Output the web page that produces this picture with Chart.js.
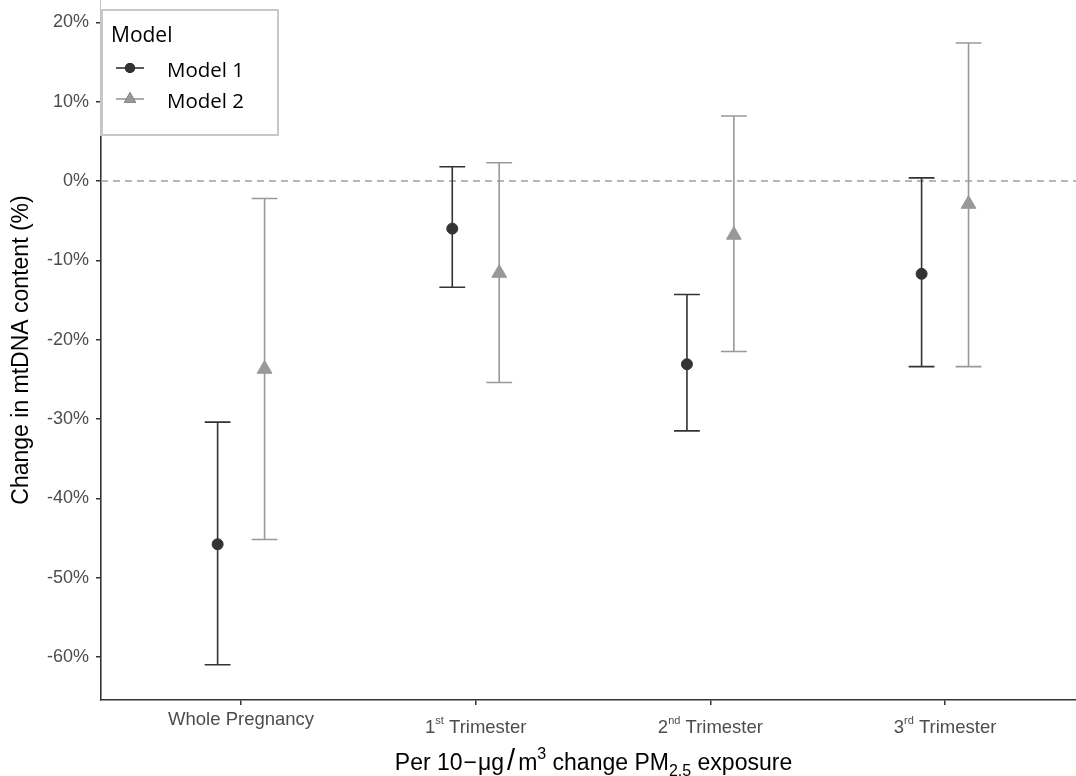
<!DOCTYPE html>
<html>
<head>
<meta charset="utf-8">
<title>mtDNA content vs PM2.5</title>
<script src="https://cdn.jsdelivr.net/npm/chart.js@4.4.1/dist/chart.umd.min.js"></script>
<style>
  html, body { margin: 0; padding: 0; background: #fff; }
  #wrap { width: 1076px; height: 776px; }
  canvas { display: block; }
</style>
</head>
<body>
<div id="wrap"><canvas id="grafico" width="1076" height="776"></canvas></div>
<script>
// ===== Dados: estimativa e IC 95% (% de mudança no mtDNA) =====
const PERIODOS = ['Whole Pregnancy', '1st Trimester', '2nd Trimester', '3rd Trimester'];
// rótulo do eixo x em partes: texto, sufixo sobrescrito, resto
const ROTULO_BASE = ['Whole Pregnancy', '1', '2', '3'];
const ROTULO_SUP = ['', 'st', 'nd', 'rd'];
const ROTULO_RESTO = ['', ' Trimester', ' Trimester', ' Trimester'];

const MODELO1_EST = [-45.8, -6.0, -23.1, -11.7];
const MODELO1_INF = [-61.0, -13.4, -31.5, -23.4];
const MODELO1_SUP = [-30.4, 1.8, -14.3, 0.4];

const MODELO2_EST = [-23.7, -11.6, -6.8, -2.9];
const MODELO2_INF = [-45.2, -25.4, -21.5, -23.4];
const MODELO2_SUP = [-2.2, 2.3, 8.2, 17.4];

const Y_TICKS = [-60, -50, -40, -30, -20, -10, 0, 10, 20];

// ===== Aparência =====
const FONTE = "'Liberation Sans', Arial, sans-serif";
const FONTE_LEGENDA = "'Open Sans', 'Liberation Sans', sans-serif";
const COR_TICK = '#4d4d4d';
const COR_EIXO = '#333333';
const DODGE = 0.1;   // afastamento dos dois modelos dentro do período
const CAPA = 0.055;  // meia largura da barra de erro (unidades do eixo x)

const MODELOS = [
  { label: 'Model 1', est: MODELO1_EST, inf: MODELO1_INF, sup: MODELO1_SUP,
    cor: '#333333', forma: 'circle', raio: 5.5, desloc: -DODGE },
  { label: 'Model 2', est: MODELO2_EST, inf: MODELO2_INF, sup: MODELO2_SUP,
    cor: '#999999', forma: 'triangle', raio: 8.5, desloc: DODGE },
];

// ===== Plugin: linha tracejada no zero =====
const linhaZero = {
  id: 'linhaZero',
  beforeDatasetsDraw(chart) {
    const { ctx, chartArea: { left, right }, scales: { y } } = chart;
    const py = y.getPixelForValue(0);
    ctx.save();
    ctx.strokeStyle = '#a0a0a0';
    ctx.lineWidth = 1.5;
    ctx.setLineDash([7, 5]);
    ctx.beginPath();
    ctx.moveTo(left, py);
    ctx.lineTo(right, py);
    ctx.stroke();
    ctx.restore();
  },
};

// ===== Plugin: barras de erro (IC) =====
const barrasErro = {
  id: 'barrasErro',
  beforeDatasetsDraw(chart) {
    const { ctx, scales: { x, y } } = chart;
    ctx.save();
    ctx.lineWidth = 1.6;
    MODELOS.forEach((m) => {
      ctx.strokeStyle = m.cor;
      m.est.forEach((_, i) => {
        const px = x.getPixelForValue(i + m.desloc);
        const x0 = x.getPixelForValue(i + m.desloc - CAPA);
        const x1 = x.getPixelForValue(i + m.desloc + CAPA);
        const yLo = y.getPixelForValue(m.inf[i]);
        const yHi = y.getPixelForValue(m.sup[i]);
        ctx.beginPath();
        ctx.moveTo(px, yLo);
        ctx.lineTo(px, yHi);
        ctx.moveTo(x0, yLo);
        ctx.lineTo(x1, yLo);
        ctx.moveTo(x0, yHi);
        ctx.lineTo(x1, yHi);
        ctx.stroke();
      });
    });
    ctx.restore();
  },
};

// ===== Plugin: rótulos do eixo x (com sobrescrito) e título do eixo x =====
function desenharPartes(ctx, partes, cx, baseY) {
  let total = 0;
  partes.forEach((p) => {
    ctx.font = `${p.tam}px ${FONTE}`;
    p.w = ctx.measureText(p.t).width;
    total += p.w + (p.gap || 0) * 2;
  });
  let px = cx - total / 2;
  partes.forEach((p) => {
    ctx.font = `${p.tam}px ${FONTE}`;
    px += p.gap || 0;
    ctx.fillText(p.t, px, baseY + (p.dy || 0));
    px += p.w + (p.gap || 0);
  });
}

const rotulosX = {
  id: 'rotulosX',
  afterDraw(chart) {
    const { ctx, chartArea: { left, right, bottom }, scales: { x } } = chart;
    ctx.save();
    ctx.textAlign = 'left';
    ctx.textBaseline = 'alphabetic';
    ctx.fillStyle = COR_TICK;

    PERIODOS.forEach((_, i) => {
      const cx = x.getPixelForValue(i);
      const partes = [{ t: ROTULO_BASE[i], tam: 18.5 }];
      if (ROTULO_SUP[i]) {
        partes.push({ t: ROTULO_SUP[i], tam: 11, dy: -9 });
        partes.push({ t: ROTULO_RESTO[i], tam: 18.5 });
      }
      desenharPartes(ctx, partes, cx, bottom + (ROTULO_SUP[i] ? 33 : 25));
    });

    // título: Per 10 − μg / m³ change PM2.5 exposure
    ctx.fillStyle = '#000';
    desenharPartes(ctx, [
      { t: 'Per 10', tam: 23 },
      { t: '\u2212', tam: 23, gap: 1 },
      { t: '\u03bcg', tam: 23 },
      { t: '/', tam: 29, gap: 3 },
      { t: 'm', tam: 23 },
      { t: '3', tam: 16, dy: -11 },
      { t: ' change PM', tam: 23 },
      { t: '2.5', tam: 16, dy: 6 },
      { t: ' exposure', tam: 23 },
    ], (left + right) / 2 + 5, bottom + 70);
    ctx.restore();
  },
};

// ===== Plugin: legenda dentro do gráfico (cobre o topo do eixo y) =====
const legendaModelo = {
  id: 'legendaModelo',
  afterDraw(chart) {
    const { ctx } = chart;
    ctx.save();
    ctx.fillStyle = '#fff';
    ctx.fillRect(100.3, 0, 179, 136);
    ctx.strokeStyle = '#c8c8c8';
    ctx.lineWidth = 2;
    ctx.strokeRect(102, 10, 176, 125);

    ctx.fillStyle = '#000';
    ctx.textBaseline = 'alphabetic';
    ctx.font = `21px ${FONTE_LEGENDA}`;
    ctx.fillText('Model', 111, 42);

    MODELOS.forEach((m, i) => {
      const cy = 68 + i * 31;
      ctx.strokeStyle = m.cor;
      ctx.lineWidth = 1.6;
      ctx.beginPath();
      ctx.moveTo(116, cy);
      ctx.lineTo(144, cy);
      ctx.stroke();
      Chart.helpers.drawPoint(ctx, {
        pointStyle: m.forma, radius: m.forma === 'circle' ? 5 : 7, rotation: 0, borderWidth: 0,
      }, 130, cy);
      ctx.fillStyle = m.cor;
      ctx.fill();
      ctx.fillStyle = '#000';
      ctx.font = `20.5px ${FONTE_LEGENDA}`;
      ctx.fillText(m.label, 167, cy + 9);
    });
    ctx.restore();
  },
};

// ===== Gráfico =====
const grafico = new Chart(document.getElementById('grafico'), {
  type: 'scatter',
  data: {
    datasets: MODELOS.map((m) => ({
      label: m.label,
      data: m.est.map((v, i) => ({ x: i + m.desloc, y: v })),
      pointStyle: m.forma,
      pointRadius: m.raio,
      pointBackgroundColor: m.cor,
      pointBorderColor: m.cor,
      pointBorderWidth: 1,
    })),
  },
  options: {
    responsive: false,
    animation: false,
    layout: { padding: 0, autoPadding: false },
    plugins: {
      legend: { display: false },
      tooltip: { enabled: false },
    },
    scales: {
      x: {
        type: 'linear',
        min: -0.597,
        max: 3.558,
        afterBuildTicks: (s) => { s.ticks = PERIODOS.map((_, i) => ({ value: i })); },
        afterFit: (s) => { s.height = 76; s.paddingLeft = 0; s.paddingRight = 0; },
        ticks: { callback: () => '', autoSkip: false },
        grid: { drawOnChartArea: false, color: COR_EIXO, tickLength: 5, lineWidth: 1.5 },
        border: { color: COR_EIXO, width: 1.6 },
      },
      y: {
        min: -65.44,
        max: 22.83,
        afterBuildTicks: (s) => { s.ticks = Y_TICKS.map((v) => ({ value: v })); },
        afterFit: (s) => { s.width = 101; s.paddingTop = 0; s.paddingBottom = 0; },
        ticks: {
          callback: (v) => `${v}%`,
          color: COR_TICK,
          font: { family: FONTE, size: 18 },
          padding: 7,
        },
        grid: { drawOnChartArea: false, color: COR_EIXO, tickLength: 5, lineWidth: 1.5 },
        border: { color: COR_EIXO, width: 1.6 },
        title: {
          display: true,
          text: 'Change in mtDNA content (%)',
          color: '#000',
          font: { family: FONTE, size: 23 },
          padding: { top: 8, bottom: 0 },
        },
      },
    },
  },
  plugins: [linhaZero, barrasErro, rotulosX, legendaModelo],
});
</script>
</body>
</html>
